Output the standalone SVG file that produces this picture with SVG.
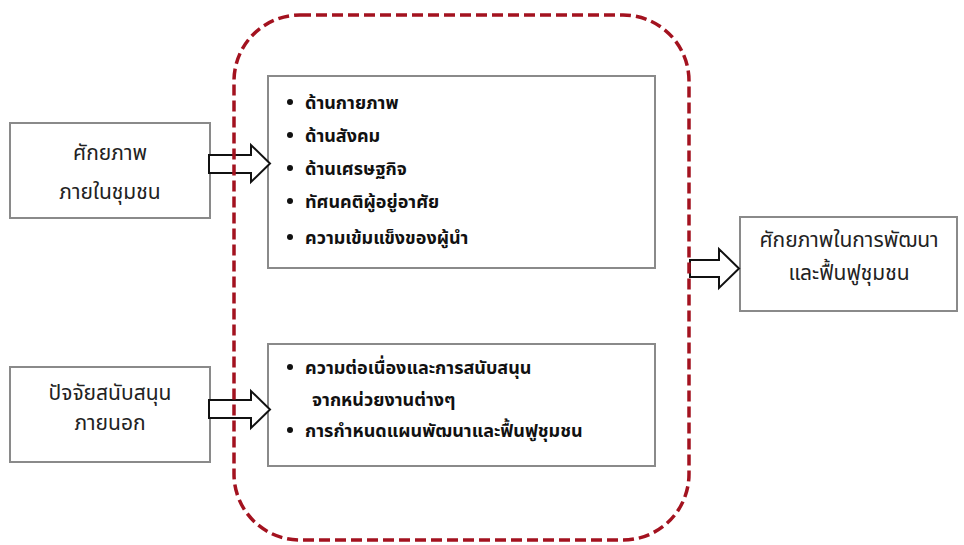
<svg xmlns="http://www.w3.org/2000/svg" width="964" height="545" viewBox="0 0 964 545">
<style>
.box{fill:#fff;stroke:#8a8a8a;stroke-width:2}
.arrow{fill:#fff;stroke:#111;stroke-width:2;stroke-linejoin:miter}
.t{font-family:"Noto Sans Thai","Tahoma","Loma","Garuda","Noto Sans","DejaVu Sans",sans-serif;font-size:21px;fill:#222}
.c{text-anchor:middle}
.b{font-weight:bold;font-size:18px;fill:#111}
.frame{fill:none;stroke:#a3121f;stroke-width:3.5;stroke-dasharray:11 5}
</style>
<rect width="964" height="545" fill="#fff"/>
<g id="internal-potential">
<rect class="box" x="10" y="123" width="200" height="95"/>
<text class="t c" x="110" y="160">ศักยภาพ</text>
<text class="t c" x="110" y="199">ภายในชุมชน</text>
</g>
<g id="external-support">
<rect class="box" x="10" y="367" width="200" height="95"/>
<text class="t c" x="110" y="400">ปัจจัยสนับสนุน</text>
<text class="t c" x="110" y="430">ภายนอก</text>
</g>
<g id="factors-box">
<rect class="box" x="268" y="76" width="387" height="192"/>
<circle cx="290" cy="102" r="3" fill="#111"/>
<circle cx="290" cy="135" r="3" fill="#111"/>
<circle cx="290" cy="168" r="3" fill="#111"/>
<circle cx="290" cy="201" r="3" fill="#111"/>
<circle cx="290" cy="237" r="3" fill="#111"/>
<text class="t b" x="305" y="109">ด้านกายภาพ</text>
<text class="t b" x="305" y="142">ด้านสังคม</text>
<text class="t b" x="305" y="175">ด้านเศรษฐกิจ</text>
<text class="t b" x="305" y="208">ทัศนคติผู้อยู่อาศัย</text>
<text class="t b" x="305" y="244">ความเข้มแข็งของผู้นำ</text>
</g>
<g id="support-box">
<rect class="box" x="268" y="344" width="387" height="122"/>
<circle cx="290" cy="367" r="3" fill="#111"/>
<circle cx="290" cy="430" r="3" fill="#111"/>
<text class="t b" x="305" y="374">ความต่อเนื่องและการสนับสนุน</text>
<text class="t b" x="312" y="406">จากหน่วยงานต่างๆ</text>
<text class="t b" x="305" y="437">การกำหนดแผนพัฒนาและฟื้นฟูชุมชน</text>
</g>
<g id="result">
<rect class="box" x="740" y="217" width="217" height="94"/>
<text class="t c" x="849" y="247">ศักยภาพในการพัฒนา</text>
<text class="t c" x="849" y="280">และฟื้นฟูชุมชน</text>
</g>
<g id="connectors">
<path class="arrow" d="M209,155 H251 V145 L270,163.5 L251,182 V173 H209 Z"/>
<path class="arrow" d="M209,400 H251 V391 L270,409.5 L251,428 V418 H209 Z"/>
<path class="arrow" d="M690,260 H719 V249 L739,268.5 L719,288 V277 H690 Z"/>
</g>
<g id="boundary">
<rect class="frame" x="234" y="15" width="455" height="525" rx="66" ry="66"/>
</g>
</svg>
